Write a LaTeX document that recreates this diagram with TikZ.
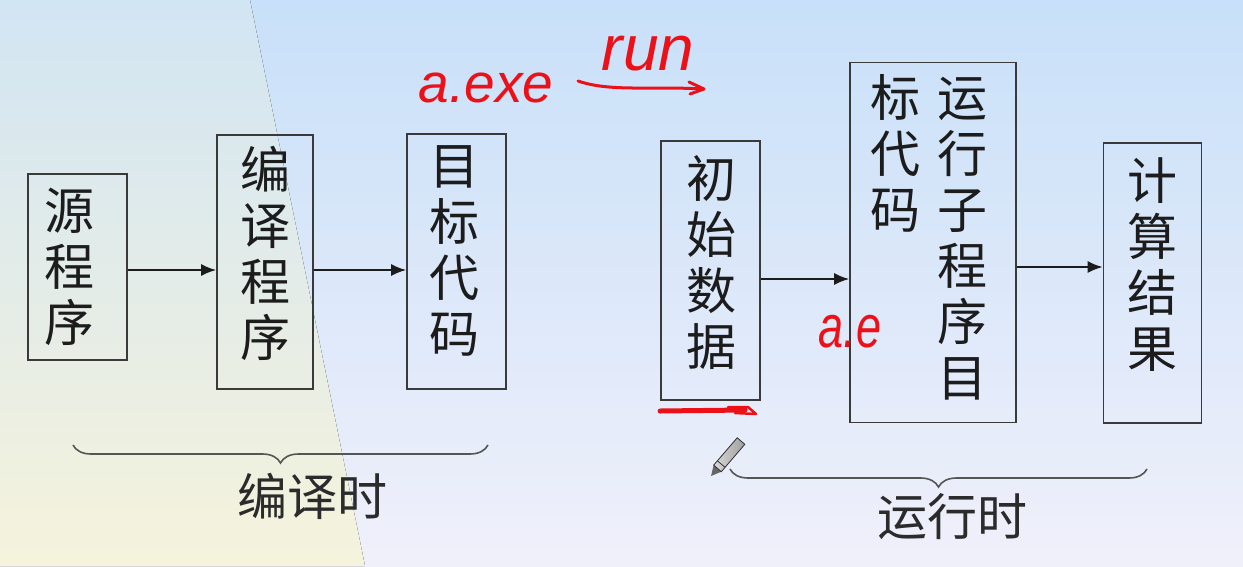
\documentclass[tikz,border=0pt]{standalone}
\usepackage{fontspec}
\setmainfont{Liberation Sans}
\newfontfamily\cjk{Noto Sans CJK SC}
\usetikzlibrary{arrows.meta,decorations.pathreplacing,calc}

\definecolor{bgRtop}{HTML}{C8E0F9}
\definecolor{bgRbot}{HTML}{F0F0FA}
\definecolor{bgLtop}{HTML}{D2E5F3}
\definecolor{bgLbot}{HTML}{F5F3DC}
\definecolor{boxline}{HTML}{3A3A3A}
\definecolor{ink}{HTML}{1C1C1C}
\definecolor{pen}{HTML}{EC1119}
\definecolor{bracegray}{HTML}{555555}

\tikzset{
  stepbox/.style={draw=boxline, line width=1.8pt, inner sep=0pt, rectangle},
  col/.style={font=\cjk\fontsize{50}{56}\selectfont, align=center, inner sep=0pt, text=ink},
  lbl/.style={font=\cjk\fontsize{50}{56}\selectfont, inner sep=0pt, text=ink!85!gray},
  arr/.style={-{Latex[length=15pt,width=12pt]}, line width=1.6pt, draw=ink},
  brc/.style={decorate, decoration={brace, mirror, amplitude=18pt}, line width=1.6pt, draw=bracegray},
  hand/.style={text=pen, inner sep=0pt, anchor=base},
  ink stroke/.style={draw=pen, line width=3pt, line cap=round, line join=round},
}

\begin{document}
\begin{tikzpicture}[x=1pt,y=-1pt]
\useasboundingbox (0,0) rectangle (1243,566);

% background: blue wash with a pale yellow wedge on the left
\fill[top color=bgRtop, bottom color=bgRbot] (0,0) rectangle (1243,566);
\fill[top color=bgLtop, bottom color=bgLbot]
  (0,0) -- (250,0) -- (365,566) -- (0,566) -- cycle;

% ---- compile-time chain ----
\node[stepbox, minimum width=99pt, minimum height=186pt] (src) at (77.5,267) {};
\node[col] (srcT) at (69,266.5) {源\\程\\序};

\node[stepbox, minimum width=96pt, minimum height=254pt] (cmp) at (265,262) {};
\node[col] (cmpT) at (265,253.5) {编\\译\\程\\序};

\node[stepbox, minimum width=99pt, minimum height=255pt] (obj) at (456.5,261.5) {};
\node[col] (objT) at (454,250.5) {目\\标\\代\\码};

\draw[arr] (src.east |- 0,270) -- (cmp.west |- 0,270);
\draw[arr] (cmp.east |- 0,270) -- (obj.west |- 0,270);

% ---- run-time chain ----
\node[stepbox, minimum width=99pt, minimum height=259pt] (dat) at (710.5,270.5) {};
\node[col] (datT) at (711,262.5) {初\\始\\数\\据};

\node[stepbox, minimum width=166pt, minimum height=360pt] (run) at (933,242.5) {};
\node[col] (runL) at (895,153) {标\\代\\码};
\node[col] (runR) at (962,239) {运\\行\\子\\程\\序\\目};

\node[stepbox, minimum width=98pt, minimum height=280pt] (res) at (1152.5,283) {};
\node[col] (resT) at (1152,265) {计\\算\\结\\果};

\draw[arr] (dat.east |- 0,279) -- (run.west |- 0,279);
\draw[arr] (run.east |- 0,267) -- (res.west |- 0,267);

% ---- braces and their captions ----
\coordinate (cbL) at (73,445);
\coordinate (cbR) at (488,445);
\draw[brc] (cbL) -- (cbR);
\node[lbl] (ctime) at (312,496) {编译时};

\coordinate (rbL) at (730,469);
\coordinate (rbR) at (1147,469);
\draw[brc] (rbL) -- (rbR);
\node[lbl] (rtime) at (952,517) {运行时};

% ---- red pen notes ----
\node[hand, font=\itshape\fontsize{55}{60}\selectfont] (exe) at (486,102) {a.exe};
\node[hand, font=\itshape\fontsize{64}{70}\selectfont] (runw) at (648,70) {run};
\draw[ink stroke] (578,81) .. controls (610,92) and (650,86) .. (703,89);
\draw[ink stroke] (689,82) -- (704,89) -- (690,94);

\node[hand, font=\itshape\fontsize{60}{66}\selectfont, xscale=0.75] (ae) at (850,347) {a.e};

\draw[draw=pen, line width=5pt, line cap=round] (dat.south west |- 0,411) -- (745,410);
\draw[ink stroke, line width=2.5pt] (728,407) -- (748,407) -- (756,414) -- (735,413);

% ---- pencil cursor ----
\fill[gray!80!black] (711,476) -- (721.3,471.7) -- (713.7,465.1) -- cycle;
\fill[left color=gray!30, right color=gray!75, draw=gray!40!black, line width=0.8pt]
  (721.3,471.7) -- (744.8,444.3) -- (737.2,437.8) -- (713.7,465.1) -- cycle;
\draw[gray!40!black, line width=0.8pt] (725,467.3) -- (717.4,460.8);
\end{tikzpicture}
\end{document}
